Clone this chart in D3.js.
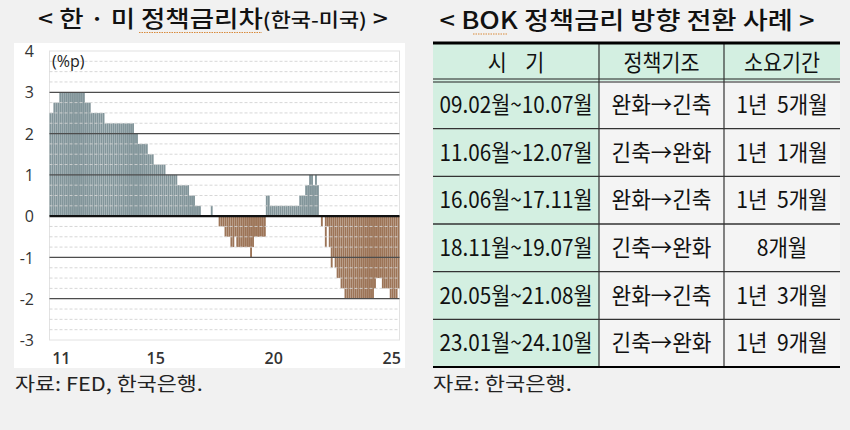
<!DOCTYPE html>
<html><head><meta charset="utf-8">
<script src="https://cdn.jsdelivr.net/npm/d3@7"></script>
<style>
html,body{margin:0;padding:0;background:#f1f1f1;}
svg{display:block;}
text{white-space:pre;}
</style></head>
<body>
<script>
// ---------- data ----------
const startYear = 2011;
// Korea base rate minus US FFR (upper bound), monthly, Jan 2011 - Oct 2025 (%p)
const spread2011 = [2.5,2.5,2.75,2.75,2.75,3,3,3,3,3,3,3];
const spread2012 = [3,3,3,3,3,3,2.75,2.75,2.75,2.5,2.5,2.5];
const spread2013 = [2.5,2.5,2.5,2.5,2.25,2.25,2.25,2.25,2.25,2.25,2.25,2.25];
const spread2014 = [2.25,2.25,2.25,2.25,2.25,2.25,2.25,2,2,1.75,1.75,1.75];
const spread2015 = [1.75,1.75,1.5,1.5,1.5,1.25,1.25,1.25,1.25,1.25,1.25,1];
const spread2016 = [1,1,1,1,1,0.75,0.75,0.75,0.75,0.75,0.75,0.5];
const spread2017 = [0.5,0.5,0.25,0.25,0.25,0,0,0,0,0,0.25,0];
const spread2018 = [0,0,-0.25,-0.25,-0.25,-0.5,-0.5,-0.5,-0.75,-0.75,-0.5,-0.75];
const spread2019 = [-0.75,-0.75,-0.75,-0.75,-0.75,-0.75,-1,-0.75,-0.5,-0.5,-0.5,-0.5];
const spread2020 = [-0.5,-0.5,0.5,0.5,0.25,0.25,0.25,0.25,0.25,0.25,0.25,0.25];
const spread2021 = [0.25,0.25,0.25,0.25,0.25,0.25,0.25,0.5,0.5,0.5,0.75,0.75];
const spread2022 = [1,1,0.75,1,0.75,0,-0.25,0,-0.75,-0.25,-0.75,-1.25];
const spread2023 = [-1,-1.25,-1.5,-1.5,-1.75,-1.75,-2,-2,-2,-2,-2,-2];
const spread2024 = [-2,-2,-2,-2,-2,-2,-2,-2,-2,-1.75,-1.5,-1.5];
const spread2025 = [-1.5,-1.75,-1.75,-1.75,-1.75,-2,-2,-2,-2,-1.75];
const yTickValues = [4,3,2,1,0,-1,-2,-3];
const xTickYears = [2011,2015,2020,2025];
const xTickLabels = ['11','15','20','25'];

const tableHeaders = ['시    기','정책기조','소요기간'];
const periods = ['09.02월~10.07월','11.06월~12.07월','16.06월~17.11월','18.11월~19.07월','20.05월~21.08월','23.01월~24.10월'];
const stances = ['완화→긴축','긴축→완화','완화→긴축','긴축→완화','완화→긴축','긴축→완화'];
const durations = ['1년  5개월','1년  1개월','1년  5개월','8개월','1년  3개월','1년  9개월'];

const spread = [].concat(spread2011,spread2012,spread2013,spread2014,spread2015,spread2016,
  spread2017,spread2018,spread2019,spread2020,spread2021,spread2022,spread2023,spread2024,spread2025);

// ---------- drawing ----------
const W = 850, H = 430;
const KR = "'Noto Sans CJK KR','Noto Sans',sans-serif";
const svg = d3.select('body').append('svg').attr('width', W).attr('height', H);
svg.append('rect').attr('width', W).attr('height', H).attr('fill', '#f1f1f1');

function fitText(sel, target) {
  const w = sel.node().getComputedTextLength();
  return target / w;
}

// Left title
const t1 = svg.append('text').attr('font-family', KR).attr('font-weight', 500).attr('fill', '#111')
  .attr('text-anchor', 'middle');
t1.append('tspan').attr('font-size', 23).text('< 한 · 미 정책금리차');
t1.append('tspan').attr('font-size', 19).text('(한국-미국)');
t1.append('tspan').attr('font-size', 23).text(' >');
{
  const s = fitText(t1, 350);
  t1.attr('transform', `translate(213,27) scale(${s},1)`);
}
svg.append('line').attr('x1', 139).attr('x2', 262).attr('y1', 32.5).attr('y2', 32.5)
  .attr('stroke', '#d98a3a').attr('stroke-width', 1).attr('stroke-dasharray', '1.5,1');

// Left panel
svg.append('rect').attr('x', 14).attr('y', 43).attr('width', 391).attr('height', 325).attr('fill', '#ffffff');

const y = d3.scaleLinear().domain([-3, 4]).range([340, 51]);
const x = d3.scaleBand().domain(d3.range(spread.length)).range([49.5, 399.5]).paddingInner(0.05);

// plot border
svg.append('rect').attr('x', 49.5).attr('y', y(4)).attr('width', 350).attr('height', y(-3) - y(4))
  .attr('fill', 'none').attr('stroke', '#e2e2e2').attr('stroke-width', 1);

// bars
svg.append('g').selectAll('rect').data(spread).join('rect')
  .attr('x', (d, i) => x(i))
  .attr('width', x.bandwidth())
  .attr('y', d => d >= 0 ? y(d) : y(0))
  .attr('height', d => Math.abs(y(d) - y(0)))
  .attr('fill', d => d >= 0 ? '#82959a' : '#9c7457');

// minor grid (every 0.25)
const minor = d3.range(-3, 4.001, 0.25).filter(v => Math.abs(v - Math.round(v)) > 1e-6);
svg.append('g').selectAll('line').data(minor).join('line')
  .attr('x1', 49.5).attr('x2', 399.5)
  .attr('y1', d => y(d)).attr('y2', d => y(d))
  .attr('stroke', '#d2d2d2').attr('stroke-width', 0.9).attr('stroke-dasharray', '3,2');

// major grid
svg.append('g').selectAll('line').data([3, 2, 1, -1, -2]).join('line')
  .attr('x1', 49.5).attr('x2', 399.5)
  .attr('y1', d => y(d)).attr('y2', d => y(d))
  .attr('stroke', '#4d4d4d').attr('stroke-width', 1.3);
svg.append('line').attr('x1', 49.5).attr('x2', 399.5).attr('y1', y(0)).attr('y2', y(0))
  .attr('stroke', '#111').attr('stroke-width', 2.4);

// y axis labels
const yAxis = d3.axisLeft(y).tickValues(yTickValues).tickSize(0).tickPadding(0).tickFormat(d => String(d));
const gy = svg.append('g').attr('transform', 'translate(34,0)').call(yAxis);
gy.select('.domain').remove();
gy.selectAll('text').attr('font-family', "'Open Sans','Noto Sans',sans-serif").attr('font-size', 16)
  .attr('fill', '#333').attr('x', 0).attr('dy', '0.35em');

svg.append('text').attr('x', 52).attr('y', 67).attr('font-family', "'Open Sans','Noto Sans',sans-serif")
  .attr('font-size', 16).attr('fill', '#222').text('(%p)');

// x axis labels (centered at mid-year)
const gx = svg.append('g');
xTickYears.forEach((yr, k) => {
  const idx = (yr - startYear) * 12 + 6;
  gx.append('text').attr('x', x(idx)).attr('y', 364).attr('text-anchor', 'middle')
    .attr('font-family', "'Open Sans','Noto Sans',sans-serif").attr('font-weight', 600)
    .attr('font-size', 16).attr('fill', '#333').text(xTickLabels[k]);
});

// left source
{
  const s1 = svg.append('text').attr('font-family', KR).attr('font-size', 19).attr('fill', '#222')
    .text('자료: FED, 한국은행.');
  const s = fitText(s1, 188);
  s1.attr('transform', `translate(15,391) scale(${s},1)`);
}

// Right title
{
  const t2 = svg.append('text').attr('font-family', KR).attr('font-weight', 500).attr('font-size', 24)
    .attr('fill', '#111').attr('text-anchor', 'middle').text('< BOK 정책금리 방향 전환 사례 >');
  const s = fitText(t2, 375);
  t2.attr('transform', `translate(627,29) scale(${s},1)`);
  svg.append('line').attr('x1', 473).attr('x2', 507).attr('y1', 34).attr('y2', 34)
    .attr('stroke', '#d98a3a').attr('stroke-width', 1).attr('stroke-dasharray', '1.5,1');
}

// Table
const colEdges = [433, 599, 724, 840];
const tableTop = 43, headBottom = 81, tableBottom = 367;
const rowY = d3.scaleBand().domain(d3.range(periods.length)).range([headBottom, tableBottom]);
const green = '#d3efe1', cell = '#f4f4f4';

svg.append('rect').attr('x', colEdges[0]).attr('y', tableTop).attr('width', colEdges[3] - colEdges[0])
  .attr('height', headBottom - tableTop).attr('fill', green);
periods.forEach((p, i) => {
  svg.append('rect').attr('x', colEdges[0]).attr('y', rowY(i)).attr('width', colEdges[1] - colEdges[0])
    .attr('height', rowY.bandwidth()).attr('fill', green);
  svg.append('rect').attr('x', colEdges[1]).attr('y', rowY(i)).attr('width', colEdges[3] - colEdges[1])
    .attr('height', rowY.bandwidth()).attr('fill', cell);
});

d3.range(1, periods.length).forEach(i => {
  svg.append('line').attr('x1', colEdges[0]).attr('x2', colEdges[3])
    .attr('y1', rowY(i)).attr('y2', rowY(i)).attr('stroke', '#333').attr('stroke-width', 1.4);
});
[headBottom - 2, headBottom + 1].forEach(yy => {
  svg.append('line').attr('x1', colEdges[0]).attr('x2', colEdges[3]).attr('y1', yy).attr('y2', yy)
    .attr('stroke', '#222').attr('stroke-width', 1.2);
});
[colEdges[1], colEdges[2]].forEach(xx => {
  svg.append('line').attr('x1', xx).attr('x2', xx).attr('y1', tableTop).attr('y2', tableBottom)
    .attr('stroke', '#333').attr('stroke-width', 1.2);
});
svg.append('line').attr('x1', colEdges[0]).attr('x2', colEdges[3]).attr('y1', tableTop).attr('y2', tableTop)
  .attr('stroke', '#000').attr('stroke-width', 3);
svg.append('line').attr('x1', colEdges[0]).attr('x2', colEdges[3]).attr('y1', tableBottom).attr('y2', tableBottom)
  .attr('stroke', '#000').attr('stroke-width', 2.2);

function cellText(txt, cx, cy, size, sx) {
  svg.append('text').attr('font-family', KR).attr('font-size', size).attr('fill', '#111')
    .attr('text-anchor', 'middle').attr('dy', '0.36em')
    .attr('transform', `translate(${cx},${cy}) scale(${sx},1)`).text(txt);
}
const colCenters = [0, 1, 2].map(k => (colEdges[k] + colEdges[k + 1]) / 2);
tableHeaders.forEach((h, k) => cellText(h, colCenters[k], (tableTop + headBottom) / 2 + 1, 23, 0.9));
periods.forEach((p, i) => {
  const cy = rowY(i) + rowY.bandwidth() / 2;
  cellText(p, colCenters[0], cy, 23, 0.9);
  cellText(stances[i], colCenters[1], cy, 23, 0.93);
  cellText(durations[i], colCenters[2], cy, 23, 0.92);
});

// right source
{
  const s2 = svg.append('text').attr('font-family', KR).attr('font-size', 19).attr('fill', '#222')
    .text('자료: 한국은행.');
  const s = fitText(s2, 139);
  s2.attr('transform', `translate(433,391) scale(${s},1)`);
}
</script>
</body></html>
